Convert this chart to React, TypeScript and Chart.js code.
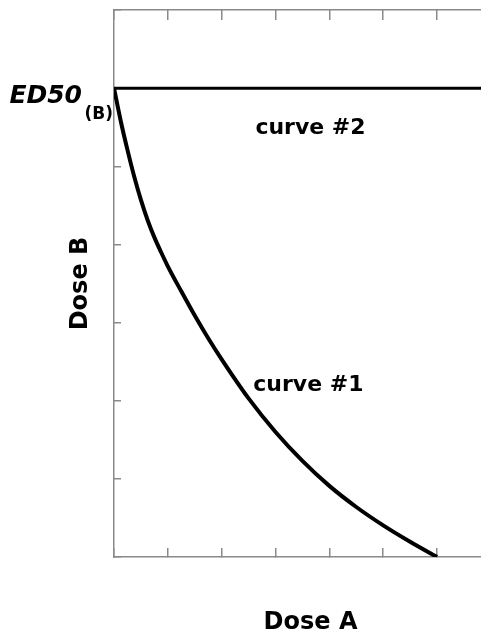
import React, { useEffect, useRef } from "react";
import { Chart, registerables } from "chart.js";

Chart.register(...registerables);

// Curve #1 (isobole from ED50(B) on the y axis down to ED50(A) on the x axis) readings
const curve1X = [0, 0.125, 0.25, 0.375, 0.5, 0.625, 0.75, 0.875, 1, 1.25, 1.5, 1.75, 2, 2.5, 3, 3.5, 4, 4.5, 5, 5.5, 6];
const curve1Y = [6.0, 5.58, 5.21, 4.87, 4.57, 4.31, 4.09, 3.9, 3.72, 3.4, 3.09, 2.8, 2.53, 2.03, 1.6, 1.23, 0.91, 0.64, 0.405, 0.195, 0];
// Curve #2: horizontal at ED50(B)
const curve2X = [0, 7.3];
const curve2Y = [6, 6];

const xMin = 0;
const xMax = 7.3;
const yMin = 0;
const yMax = 7;
const tickStep = 1;
const ed50B = 6;

const labelCurve2 = { text: "curve #2", x: 3.65, y: 5.415 };
const labelCurve1 = { text: "curve #1", x: 3.61, y: 2.13 };

const FONT = '"DejaVu Sans", Verdana, sans-serif';
const AXIS_COLOR = "#8a8a8a";

const labelsPlugin = {
  id: "labelsPlugin",
  afterDatasetsDraw(chart: any) {
    const { ctx } = chart;
    const xs = chart.scales.x;
    const ys = chart.scales.y;
    const left = xs.getPixelForValue(0);
    const yEd = ys.getPixelForValue(ed50B);
    ctx.save();
    ctx.fillStyle = "#000";
    ctx.textBaseline = "alphabetic";
    ctx.textAlign = "right";
    ctx.font = `italic bold 25px ${FONT}`;
    ctx.fillText("ED50", left - 32, yEd + 14.5);
    ctx.font = `bold 17px ${FONT}`;
    ctx.fillText("(B)", left - 1, yEd + 31);
    ctx.textAlign = "center";
    ctx.font = `bold 22px ${FONT}`;
    for (const l of [labelCurve2, labelCurve1]) {
      ctx.fillText(l.text, xs.getPixelForValue(l.x), ys.getPixelForValue(l.y));
    }
    ctx.restore();
  },
};

export default function App() {
  const ref = useRef<HTMLCanvasElement | null>(null);
  useEffect(() => {
    if (!ref.current) return;
    const chart = new Chart(ref.current, {
      type: "line",
      data: {
        datasets: [
          {
            label: "curve #1",
            data: curve1X.map((x, i) => ({ x, y: curve1Y[i] })),
            borderColor: "#000",
            borderWidth: 4,
            pointRadius: 0,
            cubicInterpolationMode: "monotone",
            fill: false,
          },
          {
            label: "curve #2",
            data: curve2X.map((x, i) => ({ x, y: curve2Y[i] })),
            borderColor: "#000",
            borderWidth: 3,
            pointRadius: 0,
            fill: false,
          },
        ],
      },
      options: {
        animation: false,
        responsive: false,
        devicePixelRatio: 1,
        layout: { padding: 0 },
        plugins: { legend: { display: false }, tooltip: { enabled: false } },
        scales: {
          x: {
            type: "linear",
            position: "bottom",
            min: xMin,
            max: xMax,
            ticks: { display: false, stepSize: tickStep },
            grid: { drawOnChartArea: false, tickLength: -9, color: AXIS_COLOR, lineWidth: 1.5 },
            border: { color: AXIS_COLOR, width: 1.5 },
            title: {
              display: true,
              text: "Dose A",
              color: "#000",
              font: { family: FONT, size: 24, weight: "bold", lineHeight: 1 },
              padding: { top: 0, bottom: 0 },
            },
            afterFit: (s: any) => { s.height = 78; },
          },
          x2: {
            type: "linear",
            position: "top",
            min: xMin,
            max: xMax,
            ticks: { display: false, stepSize: tickStep },
            grid: { drawOnChartArea: false, tickLength: -10, color: AXIS_COLOR, lineWidth: 1.5 },
            border: { color: AXIS_COLOR, width: 1.5 },
            afterFit: (s: any) => { s.height = 10; },
          },
          y: {
            type: "linear",
            position: "left",
            min: yMin,
            max: yMax,
            ticks: { display: false, stepSize: tickStep },
            grid: { drawOnChartArea: false, tickLength: -7, color: AXIS_COLOR, lineWidth: 1.5 },
            border: { color: AXIS_COLOR, width: 1.5 },
            title: {
              display: true,
              text: "Dose B",
              color: "#000",
              font: { family: FONT, size: 24, weight: "bold", lineHeight: 1 },
              padding: { top: 69, bottom: 0 },
            },
            afterFit: (s: any) => { s.width = 114; },
          },
        },
      } as any,
      plugins: [labelsPlugin],
    });
    return () => chart.destroy();
  }, []);
  return (
    <div style={{ position: "absolute", left: 0, top: 0, width: 481, height: 635, overflow: "hidden", background: "#fff" }}>
      <canvas ref={ref} width={507} height={635} style={{ display: "block" }} />
    </div>
  );
}
